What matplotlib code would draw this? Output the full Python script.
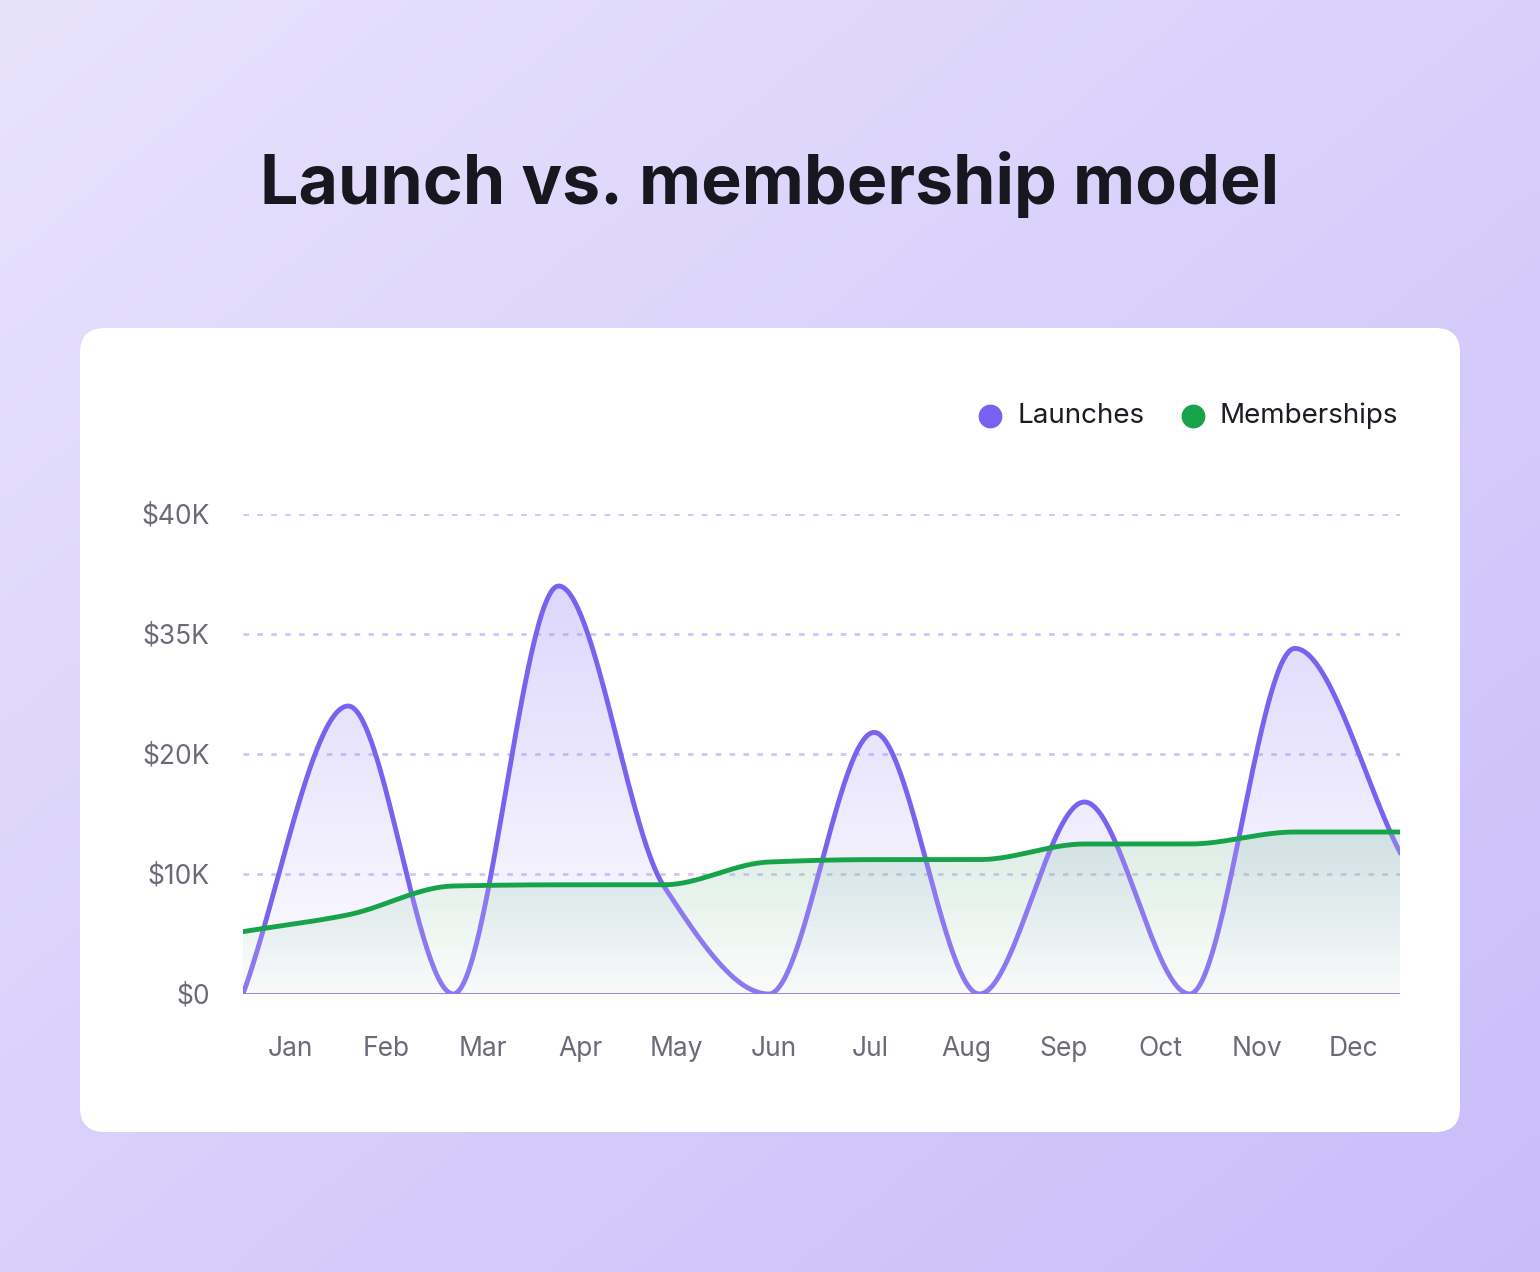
import matplotlib.pyplot as plt
import numpy as np
from matplotlib.patches import FancyBboxPatch, Polygon

plt.rcParams['font.family'] = ['Inter', 'DejaVu Sans']

months = ['Jan', 'Feb', 'Mar', 'Apr', 'May', 'Jun', 'Jul', 'Aug', 'Sep', 'Oct', 'Nov', 'Dec']
launches = [0, 24, 0, 34, 9, 0, 21.8, 0, 16, 0, 28.8, 11.8]
memberships = [5.2, 6.6, 9.0, 9.1, 9.1, 11.0, 11.2, 11.2, 12.5, 12.5, 13.5, 13.5]
ytick_vals = [0, 10, 20, 30, 40]
ytick_labels = ['$0', '$10K', '$20K', '$35K', '$40K']

PURPLE = '#7b61f0'
GREEN = '#16a34a'


def monotone(y, n=60):
    # Fritsch-Carlson monotone cubic
    y = np.asarray(y, float)
    x = np.arange(len(y))
    d = np.diff(y)
    m = np.zeros(len(y))
    m[0], m[-1] = d[0], d[-1]
    for i in range(1, len(y) - 1):
        if d[i - 1] * d[i] > 0:
            m[i] = 2 / (1 / d[i - 1] + 1 / d[i])
    xs, ys = [], []
    for i in range(len(y) - 1):
        t = np.linspace(0, 1, n, endpoint=False)
        h00 = 2 * t**3 - 3 * t**2 + 1
        h10 = t**3 - 2 * t**2 + t
        h01 = -2 * t**3 + 3 * t**2
        h11 = t**3 - t**2
        xs.append(x[i] + t)
        ys.append(h00 * y[i] + h10 * m[i] + h01 * y[i + 1] + h11 * m[i + 1])
    xs.append([x[-1]])
    ys.append([y[-1]])
    return np.concatenate(xs), np.concatenate(ys)


fig = plt.figure(figsize=(15.4, 12.72), dpi=100)

# background gradient, light top-left -> darker bottom-right
bg = fig.add_axes([0, 0, 1, 1])
gx, gy = np.meshgrid(np.linspace(0, 1, 200), np.linspace(0, 1, 200))
t = (gx + gy) / 2
c0 = np.array([0.91, 0.89, 0.99])
c1 = np.array([0.79, 0.74, 0.98])
img = c0[None, None, :] * (1 - t[..., None]) + c1[None, None, :] * t[..., None]
bg.imshow(img, extent=[0, 1, 0, 1], aspect='auto', origin='upper')
bg.set_xlim(0, 1)
bg.set_ylim(0, 1)
bg.axis('off')
card = FancyBboxPatch((80 / 1540, 1 - 1132 / 1272), 1380 / 1540, 804 / 1272,
                      boxstyle='round,pad=0,rounding_size=0.016', fc='white', ec='none',
                      transform=bg.transAxes, mutation_aspect=1540 / 1272)
bg.add_patch(card)
bg.text(0.5, 1 - 185 / 1272, 'Launch vs. membership model', ha='center', va='center',
        fontsize=49, fontweight='bold', color='#17171f')

# legend
for xp, lab, col in [(990, 'Launches', PURPLE), (1193, 'Memberships', GREEN)]:
    bg.scatter([xp / 1540], [1 - 416 / 1272], s=260, color=col, zorder=3)
    bg.text((xp + 27) / 1540, 1 - 416 / 1272, lab, va='center', fontsize=20, color='#1c1c24')

ax = fig.add_axes([243 / 1540, 1 - 994 / 1272, 1157 / 1540, 480 / 1272])
ax.set_xlim(0, 11)
ax.set_ylim(0, 40)
ax.patch.set_alpha(0)

for v in ytick_vals[1:]:
    ax.axhline(v, color='#cfc6f5', lw=2, ls=(0, (2, 3)), zorder=0)
ax.axhline(0, color='#8b7cf0', lw=2, zorder=4)


def grad_fill(xs, ys, rgb, top_alpha):
    grad = np.zeros((100, 2, 4))
    grad[..., :3] = rgb
    grad[..., 3] = np.linspace(top_alpha, 0.02, 100)[:, None]
    im = ax.imshow(grad, extent=[0, 11, 0, max(ys)], aspect='auto', origin='upper', zorder=1)
    poly = Polygon(np.column_stack([np.r_[xs, xs[-1], xs[0]], np.r_[ys, 0, 0]]),
                   closed=True, transform=ax.transData, fc='none', ec='none')
    ax.add_patch(poly)
    im.set_clip_path(poly)


lx, ly = monotone(launches)
mx, my = monotone(memberships)
grad_fill(lx, ly, (0.62, 0.55, 0.97), 0.35)
ax.plot(lx, ly, color=PURPLE, lw=3.5, zorder=2)
grad_fill(mx, my, (0.09, 0.55, 0.3), 0.18)
ax.fill_between(mx, 0, my, color='white', alpha=0.15, lw=0, zorder=2.5)
ax.plot(mx, my, color=GREEN, lw=3.5, zorder=3)

ax.set_yticks(ytick_vals)
ax.set_yticklabels(ytick_labels)
ax.set_xticks(0.447 + 0.919 * np.arange(12))
ax.set_xticklabels(months)
ax.tick_params(length=0, labelsize=19, labelcolor='#6b6b78')
ax.tick_params(axis='x', pad=30)
ax.tick_params(axis='y', pad=24)
for s in ax.spines.values():
    s.set_visible(False)

fig.savefig('out.png', dpi=100)
